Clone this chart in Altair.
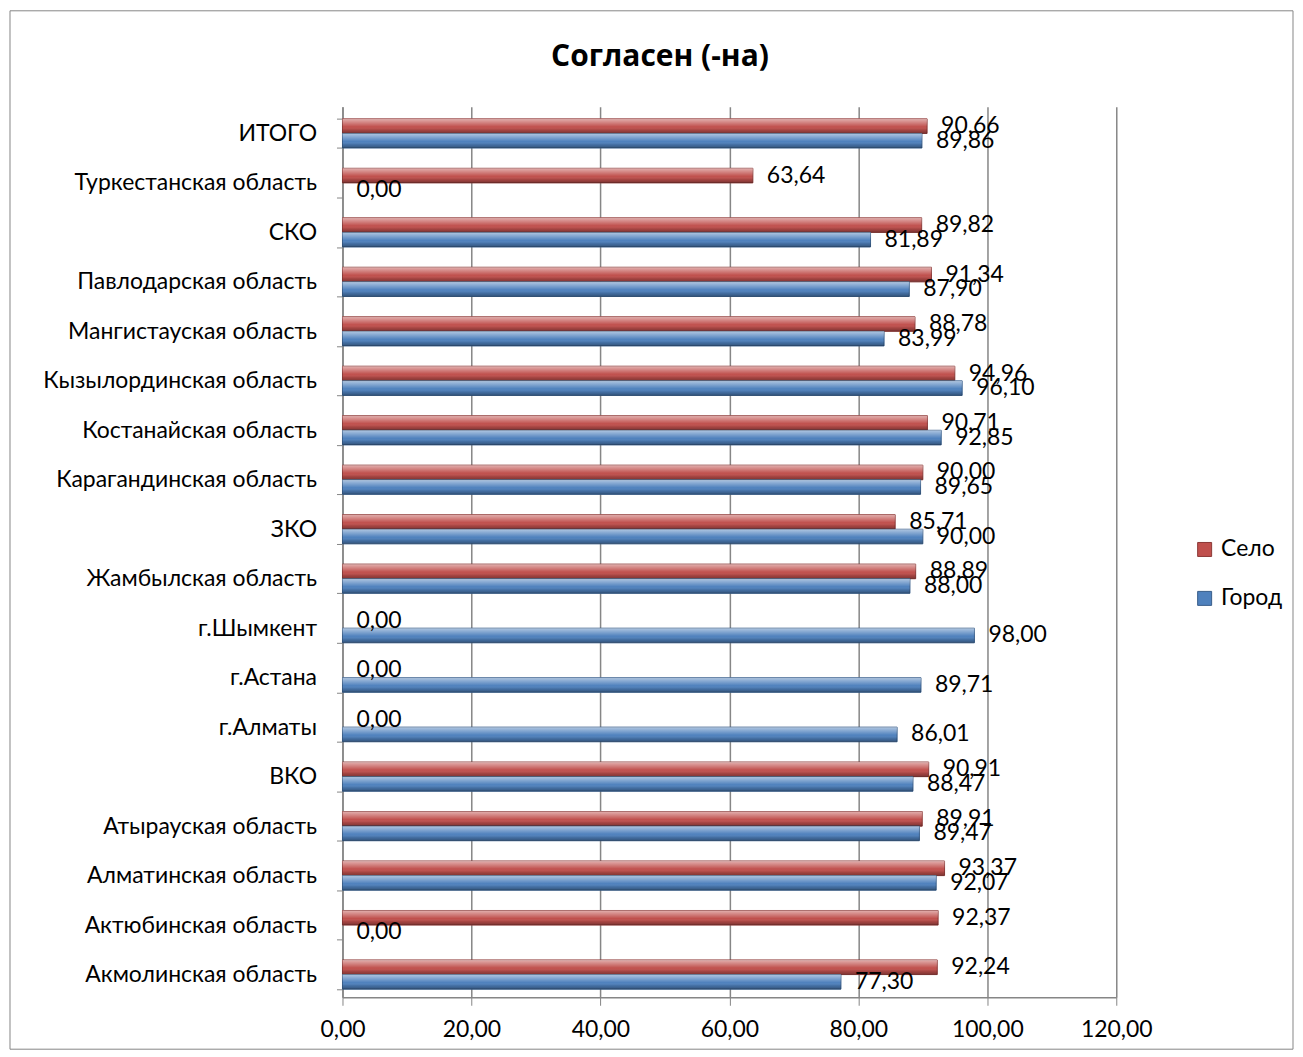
import altair as alt
import pandas as pd

categories = [
    "ИТОГО", "Туркестанская область", "СКО", "Павлодарская область",
    "Мангистауская область", "Кызылординская область", "Костанайская область",
    "Карагандинская область", "ЗКО", "Жамбылская область", "г.Шымкент",
    "г.Астана", "г.Алматы", "ВКО", "Атырауская область", "Алматинская область",
    "Актюбинская область", "Акмолинская область",
]
selo = [90.66, 63.64, 89.82, 91.34, 88.78, 94.96, 90.71, 90.00, 85.71, 88.89,
        0.00, 0.00, 0.00, 90.91, 89.91, 93.37, 92.37, 92.24]
gorod = [89.86, 0.00, 81.89, 87.90, 83.99, 96.10, 92.85, 89.65, 90.00, 88.00,
         98.00, 89.71, 86.01, 88.47, 89.47, 92.07, 0.00, 77.30]
series_names = ["Село", "Город"]
series_colors = ["#C0504D", "#4F81BD"]
series_strokes = ["#8C3836", "#385D8A"]
x_ticks = [0, 20, 40, 60, 80, 100, 120]
title_text = "Согласен (-на)"

rows = []
for c, s, g in zip(categories, selo, gorod):
    rows.append({"cat": c, "series": series_names[0], "value": s})
    rows.append({"cat": c, "series": series_names[1], "value": g})
df = pd.DataFrame(rows)

FONT = "Lato"
FS = 23
W, H = 775, 892
GRID = "#868686"
fmt = "replace(format(datum.value, '.2f'), '.', ',')"

base = alt.Chart(df).encode(
    y=alt.Y(
        "cat:N", sort=categories, title=None,
        scale=alt.Scale(paddingInner=0.41, paddingOuter=0.205, align=0.6),
        axis=alt.Axis(
            labelFontSize=FS, labelFont=FONT, labelColor="black", labelPadding=20,
            labelLimit=400, domainColor=GRID, domainWidth=1.5, tickColor=GRID,
            tickSize=6, tickBand="extent", minExtent=320, maxExtent=320,
        ),
    ),
    yOffset=alt.YOffset("series:N", sort=series_names),
    x=alt.X(
        "value:Q", title=None,
        scale=alt.Scale(domain=[0, 120], nice=False),
        axis=alt.Axis(
            values=x_ticks, labelExpr=fmt, labelFontSize=FS, labelFont=FONT,
            labelColor="black", labelPadding=13, labelFlush=False, grid=True,
            gridColor=GRID, gridWidth=1.5, domainColor=GRID, domainWidth=1.5,
            tickColor=GRID, tickSize=8,
        ),
    ),
)

bars = base.mark_bar(strokeWidth=1).encode(
    color=alt.Color(
        "series:N",
        scale=alt.Scale(domain=series_names, range=series_colors),
        legend=alt.Legend(
            title=None, orient="none", legendX=852, legendY=432,
            labelFontSize=FS, labelFont=FONT, labelColor="black",
            symbolType="square", symbolSize=196, rowPadding=25,
            symbolStrokeWidth=1, symbolOpacity=1, labelOffset=5,
        ),
    ),
    stroke=alt.Stroke(
        "series:N",
        scale=alt.Scale(domain=series_names, range=series_strokes),
        legend=None,
    ),
    strokeOpacity=alt.condition("datum.value > 0", alt.value(1), alt.value(0)),
)

shade = base.mark_bar(
    color=alt.LinearGradient(
        gradient="linear", x1=0, x2=0, y1=0, y2=1,
        stops=[
            alt.GradientStop(offset=0, color="rgba(255,255,255,0.55)"),
            alt.GradientStop(offset=0.3, color="rgba(255,255,255,0.25)"),
            alt.GradientStop(offset=0.55, color="rgba(255,255,255,0)"),
            alt.GradientStop(offset=0.75, color="rgba(0,0,0,0.12)"),
            alt.GradientStop(offset=1, color="rgba(0,0,0,0.35)"),
        ],
    )
)

labels = base.transform_calculate(
    label="replace(format(datum.value, '.2f'), '.', ',')"
).mark_text(
    align="left", baseline="middle", dx=14, fontSize=FS, font=FONT, color="black"
).encode(text="label:N")

deco = pd.DataFrame({"t": [title_text]})

border = alt.Chart(deco).mark_rect(
    fill="transparent", stroke="#868686", strokeWidth=1
).encode(
    x=alt.value(-333), x2=alt.value(952), y=alt.value(-96), y2=alt.value(944)
)

title = alt.Chart(deco).mark_text(
    fontSize=30, font="Open Sans", fontWeight="bold", color="black",
    align="center", baseline="middle"
).encode(x=alt.value(318), y=alt.value(-50), text="t:N")

chart = alt.layer(border, title, bars, shade, labels).properties(
    width=W, height=H, padding=1,
).configure_view(stroke=None)

chart.save("out.html", embed_options={"renderer": "svg", "actions": False})
